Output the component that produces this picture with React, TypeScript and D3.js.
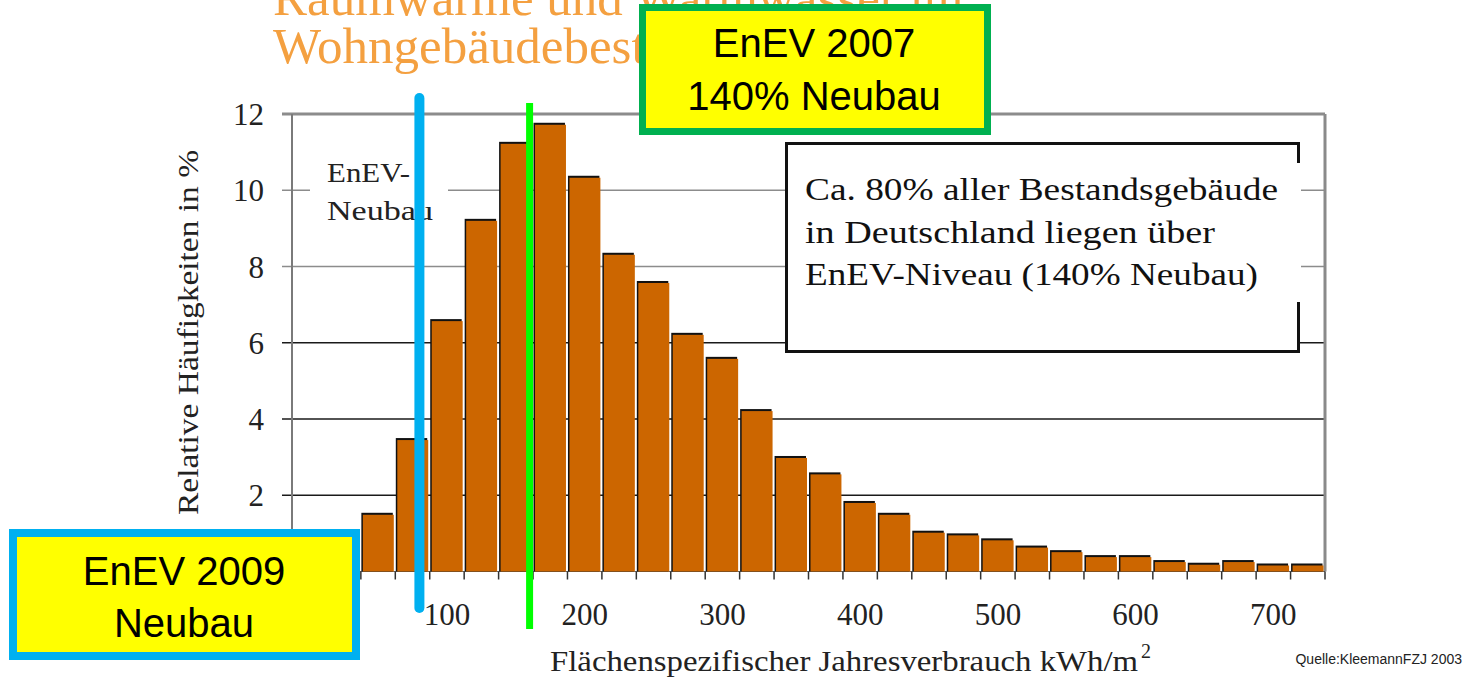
import React, { useEffect, useRef } from 'react';
import * as d3 from 'd3';

// kWh/m² bins (25 wide), first two are empty
const categories = [
  0, 25, 50, 75, 100, 125, 150, 175, 200, 225, 250, 275, 300, 325, 350,
  375, 400, 425, 450, 475, 500, 525, 550, 575, 600, 625, 650, 675, 700, 725,
];
// relative frequency in %
const shares = [
  0, 0, 1.54, 3.5, 6.62, 9.25, 11.27, 11.77, 10.38, 8.36, 7.62, 6.26, 5.63, 4.26, 3.03,
  2.6, 1.85, 1.54, 1.07, 1.0, 0.87, 0.68, 0.56, 0.43, 0.43, 0.3, 0.23, 0.3, 0.21, 0.21,
];
const yTicks = [2, 4, 6, 8, 10, 12];
const xTickLabels = [100, 200, 300, 400, 500, 600, 700];
const enev2009 = 80; // EnEV 2009 Neubau
const enev2007x140 = 160; // 140% EnEV 2007 Neubau

const W = 1475;
const H = 683;
const plot = { left: 292, right: 1325, top: 114, bottom: 571.5 };
const serif = "'Liberation Serif', serif";
const sans = "'Liberation Sans', Arial, sans-serif";

const App = () => {
  const ref = useRef<SVGSVGElement>(null);

  useEffect(() => {
    document.body.style.margin = '0';
    drawChart();
  }, []); // eslint-disable-line react-hooks/exhaustive-deps

  const drawChart = () => {
    const svg = d3.select(ref.current);
    svg.selectAll('*').remove();

    const x = d3
      .scaleBand<number>()
      .domain(categories)
      .range([plot.left, plot.right])
      .padding(0);
    const bw = x.bandwidth();
    const y = d3.scaleLinear().domain([0, 12]).range([plot.bottom, plot.top]);
    const xv = d3
      .scaleLinear()
      .domain([categories[0], categories[categories.length - 1]])
      .range([x(categories[0])! + bw / 2, x(categories[categories.length - 1])! + bw / 2]);

    // title (top line cut off by the page edge)
    svg
      .append('text')
      .attr('x', 273)
      .attr('y', 15)
      .attr('font-family', serif)
      .attr('font-size', 51)
      .attr('fill', '#f4a040')
      .text('Raumwärme und Warmwasser im');
    svg
      .append('text')
      .attr('x', 273)
      .attr('y', 63)
      .attr('font-family', serif)
      .attr('font-size', 51)
      .attr('fill', '#f4a040')
      .text('Wohngebäudebestand');

    // grid
    svg
      .append('g')
      .selectAll('line')
      .data(yTicks)
      .enter()
      .append('line')
      .attr('x1', 282)
      .attr('x2', plot.right)
      .attr('y1', (d) => y(d))
      .attr('y2', (d) => y(d))
      .attr('stroke', (d) => (d >= 8 ? '#8c8c8c' : '#1a1a1a'))
      .attr('stroke-width', (d) => (d === 12 ? 3 : 1.5));

    svg
      .append('line')
      .attr('x1', plot.left)
      .attr('x2', plot.left)
      .attr('y1', plot.top)
      .attr('y2', plot.bottom)
      .attr('stroke', '#7a7a7a')
      .attr('stroke-width', 2);
    svg
      .append('line')
      .attr('x1', plot.right)
      .attr('x2', plot.right)
      .attr('y1', plot.top)
      .attr('y2', plot.bottom)
      .attr('stroke', '#8a8a8a')
      .attr('stroke-width', 3);
    svg
      .append('line')
      .attr('x1', plot.left)
      .attr('x2', plot.right)
      .attr('y1', plot.bottom)
      .attr('y2', plot.bottom)
      .attr('stroke', '#666')
      .attr('stroke-width', 1);

    // bars with dark edge on top/left
    const bars = categories
      .map((c, i) => ({ c, v: shares[i] }))
      .filter((d) => d.v > 0);
    const g = svg.append('g');
    g.selectAll('rect.shadow')
      .data(bars)
      .enter()
      .append('rect')
      .attr('class', 'shadow')
      .attr('x', (d) => x(d.c)! + 0.5)
      .attr('y', (d) => y(d.v))
      .attr('width', bw - 3)
      .attr('height', (d) => plot.bottom - y(d.v))
      .attr('fill', '#111');
    g.selectAll('rect.bar')
      .data(bars)
      .enter()
      .append('rect')
      .attr('class', 'bar')
      .attr('x', (d) => x(d.c)! + 2)
      .attr('y', (d) => y(d.v) + 2)
      .attr('width', bw - 3.5)
      .attr('height', (d) => plot.bottom - y(d.v) - 2)
      .attr('fill', '#cc6600');

    // category tick marks at bin edges
    const edges = categories.map((c) => x(c)!).concat([plot.right]);
    svg
      .append('g')
      .selectAll('line')
      .data(edges)
      .enter()
      .append('line')
      .attr('x1', (d) => d)
      .attr('x2', (d) => d)
      .attr('y1', plot.bottom)
      .attr('y2', plot.bottom + 8)
      .attr('stroke', '#333')
      .attr('stroke-width', 1.5);

    // tick labels
    svg
      .append('g')
      .selectAll('text')
      .data(yTicks)
      .enter()
      .append('text')
      .attr('x', 264)
      .attr('y', (d) => y(d) + 11)
      .attr('text-anchor', 'end')
      .attr('font-family', serif)
      .attr('font-size', 31)
      .attr('fill', '#222')
      .text((d) => d);
    svg
      .append('g')
      .selectAll('text')
      .data(xTickLabels)
      .enter()
      .append('text')
      .attr('x', (d) => x(d)! + bw / 2)
      .attr('y', 625)
      .attr('text-anchor', 'middle')
      .attr('font-family', serif)
      .attr('font-size', 31)
      .attr('fill', '#222')
      .text((d) => d);

    // axis titles
    svg
      .append('text')
      .attr('transform', 'translate(198,515) rotate(-90)')
      .attr('font-family', serif)
      .attr('font-size', 30)
      .attr('textLength', 365)
      .attr('lengthAdjust', 'spacingAndGlyphs')
      .attr('fill', '#222')
      .text('Relative Häufigkeiten in %');
    svg
      .append('text')
      .attr('x', 550)
      .attr('y', 671)
      .attr('font-family', serif)
      .attr('font-size', 30)
      .attr('textLength', 588)
      .attr('lengthAdjust', 'spacingAndGlyphs')
      .attr('fill', '#222')
      .text('Flächenspezifischer Jahresverbrauch kWh/m');
    svg
      .append('text')
      .attr('x', 1141)
      .attr('y', 658)
      .attr('font-family', serif)
      .attr('font-size', 20)
      .attr('fill', '#222')
      .text('2');

    svg
      .append('text')
      .attr('x', 1462)
      .attr('y', 664)
      .attr('text-anchor', 'end')
      .attr('font-family', sans)
      .attr('font-size', 14)
      .attr('fill', '#222')
      .text('Quelle:KleemannFZJ 2003');

    // EnEV-Neubau label inside plot
    svg
      .append('rect')
      .attr('x', 310)
      .attr('y', 152)
      .attr('width', 138)
      .attr('height', 76)
      .attr('fill', '#fff');
    svg
      .append('text')
      .attr('x', 327)
      .attr('y', 182)
      .attr('font-family', serif)
      .attr('font-size', 28)
      .attr('textLength', 83)
      .attr('lengthAdjust', 'spacingAndGlyphs')
      .attr('fill', '#222')
      .text('EnEV-');
    svg
      .append('text')
      .attr('x', 327)
      .attr('y', 220)
      .attr('font-family', serif)
      .attr('font-size', 28)
      .attr('textLength', 106)
      .attr('lengthAdjust', 'spacingAndGlyphs')
      .attr('fill', '#222')
      .text('Neubau');

    // note box
    svg
      .append('rect')
      .attr('x', 786.5)
      .attr('y', 143.5)
      .attr('width', 512)
      .attr('height', 208)
      .attr('fill', '#fff')
      .attr('stroke', '#111')
      .attr('stroke-width', 3);
    svg
      .append('line')
      .attr('x1', 1298.5)
      .attr('x2', 1298.5)
      .attr('y1', 163)
      .attr('y2', 302)
      .attr('stroke', '#fff')
      .attr('stroke-width', 5);
    const note = [
      ['Ca. 80% aller Bestandsgebäude', 473],
      ['in Deutschland liegen über', 410],
      ['EnEV-Niveau (140% Neubau)', 453],
    ];
    note.forEach(([t, len], i) => {
      svg
        .append('text')
        .attr('x', 805)
        .attr('y', 200 + i * 42.5)
        .attr('font-family', serif)
        .attr('font-size', 31)
        .attr('textLength', len)
        .attr('lengthAdjust', 'spacingAndGlyphs')
        .attr('fill', '#111')
        .text(t as string);
    });

    // marker lines
    svg
      .append('line')
      .attr('x1', xv(enev2009))
      .attr('x2', xv(enev2009))
      .attr('y1', 98)
      .attr('y2', 608)
      .attr('stroke', '#00b0f0')
      .attr('stroke-width', 10)
      .attr('stroke-linecap', 'round');
    svg
      .append('line')
      .attr('x1', xv(enev2007x140))
      .attr('x2', xv(enev2007x140))
      .attr('y1', 103)
      .attr('y2', 629)
      .attr('stroke', '#00ff00')
      .attr('stroke-width', 7);

    // callout boxes
    const callout = (bx, by, bw2, bh, stroke, sw, cx, lines, ys) => {
      svg
        .append('rect')
        .attr('x', bx)
        .attr('y', by)
        .attr('width', bw2)
        .attr('height', bh)
        .attr('fill', '#ffff00')
        .attr('stroke', stroke)
        .attr('stroke-width', sw);
      lines.forEach((t, i) => {
        svg
          .append('text')
          .attr('x', cx)
          .attr('y', ys[i])
          .attr('text-anchor', 'middle')
          .attr('font-family', sans)
          .attr('font-size', 40)
          .attr('fill', '#000')
          .text(t);
      });
    };
    callout(642.5, 7.5, 345, 124, '#00b050', 7, 814, ['EnEV 2007', '140% Neubau'], [57, 110]);
    callout(13, 533, 343, 123, '#00b0f0', 8, 184, ['EnEV 2009', 'Neubau'], [585, 637]);
  };

  return (
    <div>
      <svg ref={ref} width={W} height={H} style={{ display: 'block' }}></svg>
    </div>
  );
};

export default App;
